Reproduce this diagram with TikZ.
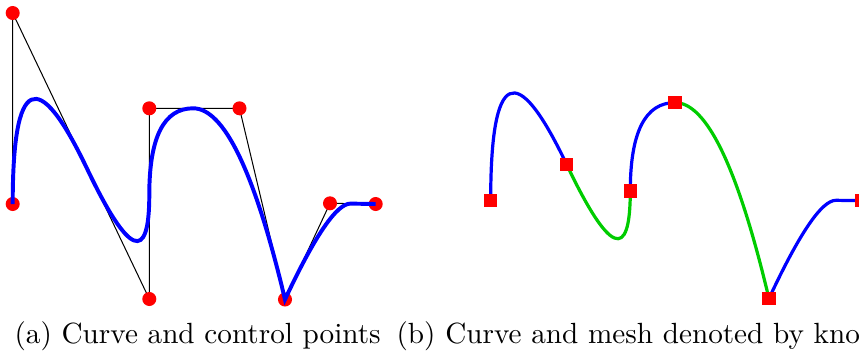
\documentclass[tikz,border=0pt]{standalone}
\usetikzlibrary{calc}
% control points of the spline, in pixels of the left panel
\newcommand{\splinepts}{0/12.7/204, 1/12.7/13, 2/149.3/299, 3/149.3/108.3,
  4/239.5/108.3, 5/285/299.5, 6/330/203.3, 7/375.7/204}

\begin{document}
\begin{tikzpicture}[
  x=0.3425pt, y=-0.3425pt,
  poly/.style={black, line width=0.35pt},
  curv/.style={blue, line width=1.35pt},
  bseg/.style={blue, line width=1.1pt},
  gseg/.style={green!80!black, line width=1.1pt},
  ctrl/.style={circle, fill=red, inner sep=0pt, minimum size=4.8pt},
  knot/.style={rectangle, fill=red, inner sep=0pt, minimum size=4.6pt},
  capt/.style={anchor=base west, inner sep=0pt, font=\normalsize},
  bez/.style={to path={.. controls ($(\tikztostart)!2/3!(#1)$)
                       and ($(\tikztotarget)!2/3!(#1)$) .. (\tikztotarget)}}]

\useasboundingbox (0,0) rectangle (859,351);
\clip (0,0) rectangle (859,351);

% (a) curve and control polygon
\foreach \n/\px/\py in \splinepts
  \coordinate (p\n) at (\px,\py);
\coordinate (k1) at ($(p1)!0.545!(p2)$);
\coordinate (k2) at ($(p2)!0.547!(p3)$);
\coordinate (k3) at ($(p3)!0.486!(p4)$);
\coordinate (k5) at ($(p6)!0.45!(p7)$);

\draw[poly] (p0) -- (p1) -- (p2) -- (p3) -- (p4) -- (p5) -- (p6) -- (p7);
\foreach \n in {0,...,7}
  \node[ctrl] (c\n) at (p\n) {};
\draw[curv] (p0) to[bez=p1] (k1) to[bez=p2] (k2) to[bez=p3] (k3)
  to[bez=p4] (p5) to[bez=p6] (k5) -- (p7);

% (b) same curve, split at the knots
\begin{scope}[shift={(477.7,-8.4)}, xscale=1.022, yscale=1.025]
  \foreach \n/\px/\py in \splinepts
    \coordinate (q\n) at (\px,\py);
\end{scope}
\coordinate (m1) at ($(q1)!0.545!(q2)$);
\coordinate (m2) at ($(q2)!0.547!(q3)$);
\coordinate (m3) at ($(q3)!0.486!(q4)$);
\coordinate (m5) at ($(q6)!0.45!(q7)$);

\draw[bseg] (q0) to[bez=q1] (m1);
\draw[gseg] (m1) to[bez=q2] (m2);
\draw[bseg] (m2) to[bez=q3] (m3);
\draw[gseg] (m3) to[bez=q4] (q5);
\draw[bseg] (q5) to[bez=q6] (m5) -- (q7);
\foreach \k in {q0,m1,m2,m3,q5,q7}
  \node[knot] (s\k) at (\k) {};

\node[capt] (capa) at (14,343) {(a) Curve and control points};
\node[capt] (capb) at (396,343) {(b) Curve and mesh denoted by kno};
\end{tikzpicture}
\end{document}
